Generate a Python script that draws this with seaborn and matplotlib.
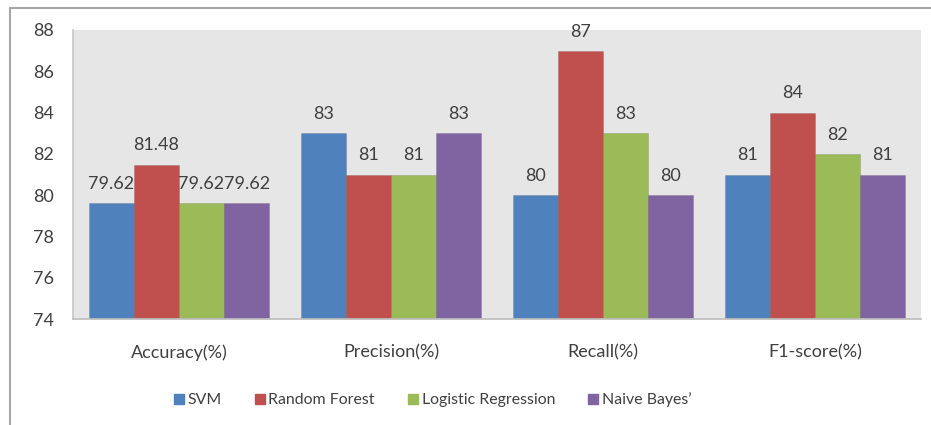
import matplotlib
matplotlib.use("Agg")
import matplotlib.pyplot as plt
import seaborn as sns
import pandas as pd
from matplotlib.lines import Line2D

metrics = ["Accuracy(%)", "Precision(%)", "Recall(%)", "F1-score(%)"]
models = ["SVM", "Random Forest", "Logistic Regression", "Naive Bayes’"]
svm = [79.62, 83, 80, 81]
random_forest = [81.48, 81, 87, 84]
logistic_regression = [79.62, 81, 83, 82]
naive_bayes = [79.62, 83, 80, 81]
y_ticks = [74, 76, 78, 80, 82, 84, 86, 88]

colors = ["#4F81BD", "#C0504D", "#9BBB59", "#8064A2"]
text_color = "#404040"

rows = []
for model, vals in zip(models, [svm, random_forest, logistic_regression, naive_bayes]):
    for m, v in zip(metrics, vals):
        rows.append({"Metric": m, "Model": model, "Value": v})
df = pd.DataFrame(rows)

sns.set_theme(style="white")
plt.rcParams["font.family"] = ["Lato", "DejaVu Sans"]

fig = plt.figure(figsize=(9.31, 4.25), dpi=100)
ax = fig.add_axes([73 / 931, 1 - 319 / 425, 848 / 931, 289 / 425])
ax.set_facecolor("#E6E6E6")

sns.barplot(data=df, x="Metric", y="Value", hue="Model", palette=colors,
            hue_order=models, order=metrics, ax=ax, width=0.85, saturation=1,
            edgecolor="#00000022", linewidth=0.6, legend=False)

ax.set_ylim(74, 88)
ax.set_yticks(y_ticks)
ax.set_yticklabels([str(t) for t in y_ticks], fontsize=13, color=text_color)
ax.set_xlim(-0.5, 3.5)
ax.tick_params(axis="x", labelsize=13, colors=text_color, pad=18, length=0)
ax.tick_params(axis="y", length=0, pad=14)
ax.set_xlabel("")
ax.set_ylabel("")
for s in ["top", "right"]:
    ax.spines[s].set_visible(False)
ax.spines["left"].set_color("#C8C8C8")
ax.spines["bottom"].set_color("#BEBEBE")

for cont in ax.containers:
    labels = [("%g" % b.get_height()) for b in cont]
    ax.bar_label(cont, labels=labels, padding=8, fontsize=13, color=text_color)

# legend below the plot
handles = [Line2D([0], [0], marker="s", linestyle="", markersize=7.5,
                  markerfacecolor=c, markeredgecolor=c) for c in colors]
fig.legend(handles, models, loc="center", bbox_to_anchor=(432 / 931, 1 - 400 / 425),
           ncol=4, frameon=False, fontsize=11.4, handletextpad=0.15,
           columnspacing=2.0, labelcolor=text_color, handlelength=0.8)

# outer chart border
fig.add_artist(Line2D([10 / 931, 10 / 931], [0, 1 - 8 / 425], transform=fig.transFigure,
                      color="#A6A6A6", linewidth=1.5))
fig.add_artist(Line2D([10 / 931, 1], [1 - 8 / 425, 1 - 8 / 425], transform=fig.transFigure,
                      color="#A6A6A6", linewidth=1.5))

fig.savefig("out.png", dpi=100)
